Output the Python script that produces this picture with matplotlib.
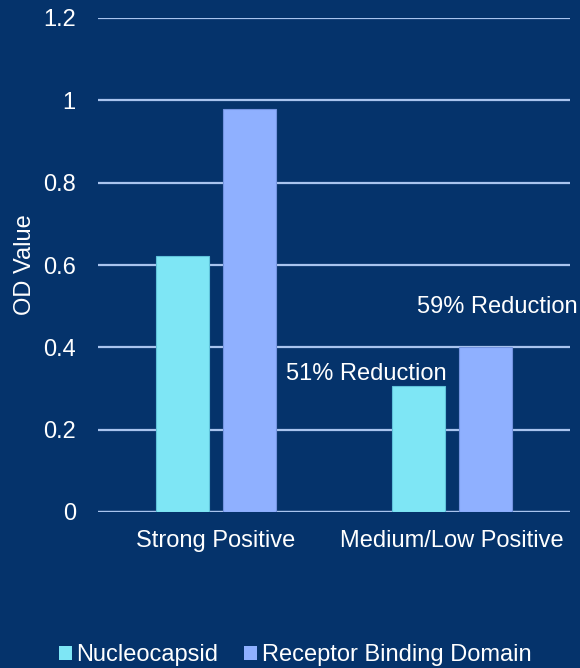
import matplotlib
matplotlib.use('Agg')
import matplotlib.pyplot as plt
from matplotlib.patches import Patch
import numpy as np

plt.rcParams['font.family'] = ['Liberation Sans', 'DejaVu Sans']

# data
categories = ['Strong Positive', 'Medium/Low Positive']
series_names = ['Nucleocapsid', 'Receptor Binding Domain']
nucleocapsid = [0.622, 0.307]
rbd = [0.979, 0.401]
notes = ['51% Reduction', '59% Reduction']
yticks = [0, 0.2, 0.4, 0.6, 0.8, 1.0, 1.2]
ytick_labels = ['0', '0.2', '0.4', '0.6', '0.8', '1', '1.2']

BG = '#05336B'
GRID = '#A9C4EE'
C1 = '#7EE6F5'
C2 = '#8FB0FF'
WHITE = '#FFFFFF'
FS = 17

fig = plt.figure(figsize=(5.8, 6.68), dpi=100)
fig.patch.set_facecolor(BG)
ax = fig.add_axes([98/580, 1 - 512/668, 472/580, 494/668])
ax.set_facecolor(BG)

x = np.arange(len(categories))
w = 0.225
off = 0.142
ax.bar(x - off, nucleocapsid, w, color=C1, edgecolor='#5FC2DA', linewidth=0.8, zorder=3)
ax.bar(x + off, rbd, w, color=C2, edgecolor='#7393E0', linewidth=0.8, zorder=3)

ax.set_xlim(-0.5, 1.5)
ax.set_ylim(0, 1.2)
ax.set_yticks(yticks)
ax.set_yticklabels(ytick_labels)
ax.set_xticks(x)
ax.set_xticklabels(categories)
ax.yaxis.grid(True, color=GRID, linewidth=1.6, zorder=0)
ax.set_axisbelow(True)
for s in ax.spines.values():
    s.set_visible(False)
ax.tick_params(axis='both', length=0, colors=WHITE, labelsize=FS)
ax.tick_params(axis='y', pad=16)
ax.tick_params(axis='x', pad=13)
ax.set_ylabel('OD Value', color=WHITE, fontsize=FS, labelpad=5)
ax.axhline(0, color=GRID, linewidth=1.6, zorder=1)

# reduction notes above the second group
ax.text(0.638, 0.32, notes[0], ha='center', va='baseline',
        color=WHITE, fontsize=FS, clip_on=False)
ax.text(1.193, 0.483, notes[1], ha='center', va='baseline',
        color=WHITE, fontsize=FS, clip_on=False)

handles = [Patch(facecolor=C1, edgecolor='none'), Patch(facecolor=C2, edgecolor='none')]
leg = fig.legend(handles, series_names, loc='center', bbox_to_anchor=(0.509, 13/668),
                 ncol=2, frameon=False, fontsize=FS, handlelength=0.55, handleheight=0.55,
                 handletextpad=0.2, columnspacing=1.1, borderpad=0, borderaxespad=0)
for t in leg.get_texts():
    t.set_color(WHITE)

fig.savefig('out.png', dpi=100, facecolor=BG)
